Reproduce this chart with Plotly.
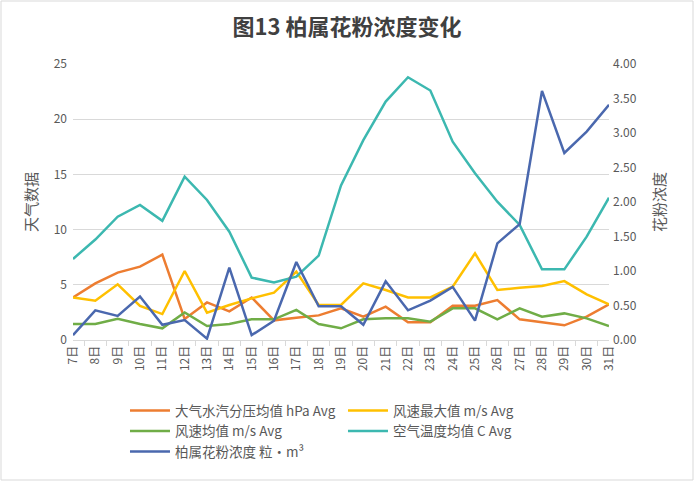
import plotly.graph_objects as go

days = ["%d日" % d for d in range(7, 32)]

vapor = [3.86, 5.13, 6.1, 6.64, 7.73, 1.9, 3.4, 2.6, 3.85, 1.78, 2.02, 2.23, 2.87,
         2.11, 3.02, 1.6, 1.6, 3.11, 3.11, 3.62, 1.87, 1.63, 1.33, 2.11, 3.23]
wind_max = [3.86, 3.56, 5.04, 3.08, 2.35, 6.25, 2.48, 3.17, 3.77, 4.29, 6.19, 3.17, 3.17,
            5.13, 4.53, 3.86, 3.86, 4.83, 7.85, 4.53, 4.74, 4.89, 5.34, 4.14, 3.23]
wind_avg = [1.45, 1.45, 1.93, 1.45, 1.06, 2.5, 1.27, 1.45, 1.87, 1.87, 2.72, 1.45, 1.06,
            1.87, 1.96, 1.96, 1.66, 2.87, 2.87, 1.87, 2.87, 2.11, 2.41, 1.96, 1.27]
temp = [7.34, 9.1, 11.17, 12.23, 10.8, 14.8, 12.68, 9.81, 5.65, 5.22, 5.74, 7.64, 14.0,
        18.1, 21.6, 23.8, 22.6, 17.96, 15.1, 12.53, 10.42, 6.4, 6.4, 9.36, 12.89]
pollen = [0.07, 0.43, 0.35, 0.63, 0.22, 0.29, 0.02, 1.05, 0.07, 0.28, 1.13, 0.49, 0.49,
          0.22, 0.85, 0.43, 0.57, 0.77, 0.28, 1.40, 1.68, 3.61, 2.71, 3.02, 3.41]

grey = "#595959"
font_cn = "Noto Sans CJK SC"

fig = go.Figure()
fig.add_trace(go.Scatter(x=days, y=vapor, name="大气水汽分压均值 hPa Avg", mode="lines",
                         line=dict(color="#ED7D31", width=2.5)))
fig.add_trace(go.Scatter(x=days, y=wind_max, name="风速最大值 m/s Avg", mode="lines",
                         line=dict(color="#FFC000", width=2.5)))
fig.add_trace(go.Scatter(x=days, y=wind_avg, name="风速均值 m/s Avg", mode="lines",
                         line=dict(color="#70AD47", width=2.5)))
fig.add_trace(go.Scatter(x=days, y=temp, name="空气温度均值 C Avg", mode="lines",
                         line=dict(color="#3CB8B0", width=2.5)))
fig.add_trace(go.Scatter(x=days, y=pollen, name="柏属花粉浓度 粒·m³", mode="lines",
                         line=dict(color="#4A68AE", width=2.5), yaxis="y2"))

# frame around the whole chart, in plot-area paper units (plot is 536 x 276 px)
pw, ph = 536, 276
frame = dict(type="rect", xref="paper", yref="paper",
             x0=(1 - 73) / pw, x1=(693 - 73) / pw,
             y0=(340 - 480) / ph, y1=(340 - 1) / ph,
             line=dict(color="#d9d9d9", width=1))

fig.update_layout(
    width=694, height=481,
    margin=dict(l=73, r=85, t=64, b=141),
    paper_bgcolor="white", plot_bgcolor="white",
    font=dict(family=font_cn, size=12, color=grey),
    title=dict(text="<b>图13 柏属花粉浓度变化</b>", x=0.5, xanchor="center", y=0.944,
               yanchor="middle", font=dict(size=22, color="#404040")),
    xaxis=dict(type="category", tickangle=-90, tickson="boundaries", ticks="outside",
               ticklen=5, tickcolor="#d9d9d9", showline=True, linecolor="#d9d9d9",
               showgrid=False, tickfont=dict(size=12, color=grey), automargin=False),
    yaxis=dict(range=[0, 25], dtick=5, showgrid=True, gridcolor="#d9d9d9",
               zeroline=False, automargin=False, ticklabelstandoff=5,
               title=dict(text="天气数据", font=dict(size=15, color=grey), standoff=12),
               tickfont=dict(size=12, color=grey)),
    yaxis2=dict(range=[0, 4], dtick=0.5, tickformat=".2f", overlaying="y", side="right",
                showgrid=False, zeroline=False, automargin=False, ticklabelstandoff=3,
                title=dict(text="花粉浓度", font=dict(size=15, color=grey), standoff=18),
                tickfont=dict(size=12, color=grey)),
    legend=dict(orientation="h", x=0.097, xanchor="left", y=-0.2, yanchor="top",
                entrywidth=163, entrywidthmode="pixels", tracegroupgap=0,
                font=dict(size=13.5, color=grey), itemwidth=40),
    shapes=[frame],
)

fig.write_html("out.html", config={"displayModeBar": False},
               post_script="document.body.style.margin='0';")
